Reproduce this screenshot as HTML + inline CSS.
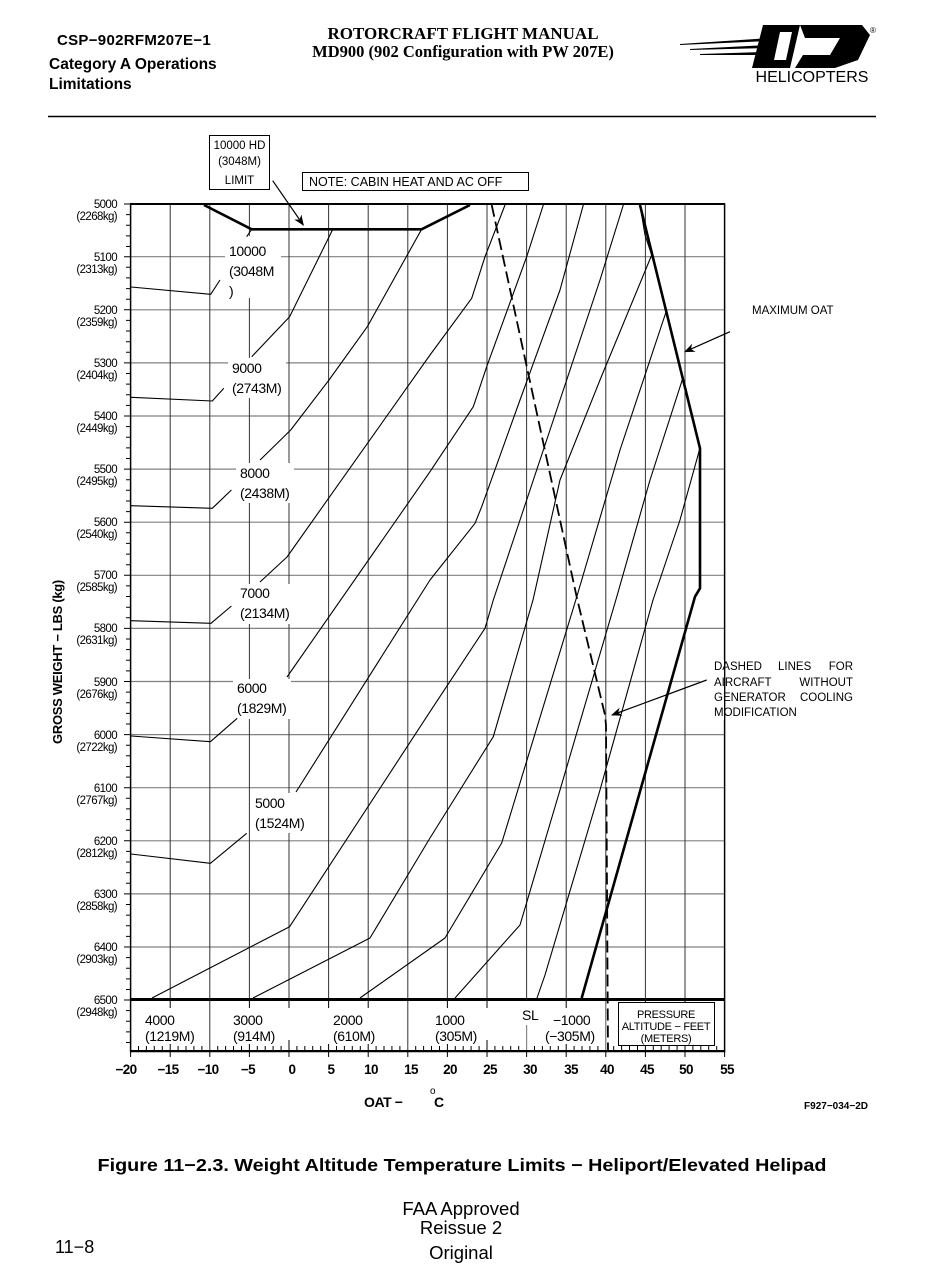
<!DOCTYPE html>
<html><head><meta charset="utf-8"><style>
html,body{margin:0;padding:0;background:#fff;}
svg{display:block;}
text{font-family:"Liberation Sans",Arial,sans-serif;fill:#000;}
</style></head><body>
<svg width="925" height="1287" viewBox="0 0 925 1287" xmlns="http://www.w3.org/2000/svg">
<defs>
<marker id="ah" viewBox="0 0 10 10" refX="9" refY="5" markerWidth="9" markerHeight="9" orient="auto-start-reverse"><path d="M0,1 L10,5 L0,9 L3,5 z" fill="#000"/></marker>
</defs>
<!-- Header -->
<text x="57" y="45" font-size="15" font-weight="bold" letter-spacing="0.3">CSP−902RFM207E−1</text>
<text x="49" y="69" font-size="15.5" font-weight="bold">Category A Operations</text>
<text x="49" y="89" font-size="15.5" font-weight="bold">Limitations</text>
<text x="463" y="39" font-size="17" font-weight="bold" text-anchor="middle" style="font-family:'Liberation Serif',serif">ROTORCRAFT FLIGHT MANUAL</text>
<text x="463" y="57" font-size="16.5" font-weight="bold" text-anchor="middle" style="font-family:'Liberation Serif',serif">MD900 (902 Configuration with PW 207E)</text>
<!-- logo -->
<g fill="#000">
<polygon points="680,44 770,38 768,41 680,45"/>
<polygon points="690,49 768,45 766,48 690,50"/>
<polygon points="700,54 764,52 762,55 700,55"/>
<polygon points="763,25 800,25 790,68 752,68"/>
<polygon points="800,25 862,25 870,35 858,60 835,68 795,68 803,55 830,55 840,38 805,38"/>
</g>
<polygon points="780,32 792,32 786,60 774,60" fill="#fff"/>
<text x="870" y="33" font-size="8">®</text>
<text x="812" y="82" font-size="16" text-anchor="middle">HELICOPTERS</text>
<line x1="48" y1="116.5" x2="876" y2="116.5" stroke="#000" stroke-width="1.5"/>

<!-- Grid horizontal -->
<g stroke="#808080" stroke-width="1.2">
<line x1="131" y1="256.7" x2="725" y2="256.7"/><line x1="131" y1="309.8" x2="725" y2="309.8"/>
<line x1="131" y1="362.9" x2="725" y2="362.9"/><line x1="131" y1="416" x2="725" y2="416"/>
<line x1="131" y1="469.1" x2="725" y2="469.1"/><line x1="131" y1="522.2" x2="725" y2="522.2"/>
<line x1="131" y1="575.3" x2="725" y2="575.3"/><line x1="131" y1="628.4" x2="725" y2="628.4"/>
<line x1="131" y1="681.5" x2="725" y2="681.5"/><line x1="131" y1="734.6" x2="725" y2="734.6"/>
<line x1="131" y1="787.7" x2="725" y2="787.7"/><line x1="131" y1="840.8" x2="725" y2="840.8"/>
<line x1="131" y1="893.9" x2="725" y2="893.9"/><line x1="131" y1="947" x2="725" y2="947"/>
</g>
<!-- Grid vertical -->
<g stroke="#333" stroke-width="1">
<line x1="170.2" y1="204" x2="170.2" y2="1000"/><line x1="209.8" y1="204" x2="209.8" y2="1051"/>
<line x1="249.4" y1="204" x2="249.4" y2="1000"/><line x1="289" y1="204" x2="289" y2="1000"/>
<line x1="328.6" y1="204" x2="328.6" y2="1000"/><line x1="368.2" y1="204" x2="368.2" y2="1000"/>
<line x1="407.8" y1="204" x2="407.8" y2="1051"/><line x1="447.4" y1="204" x2="447.4" y2="1000"/>
<line x1="487" y1="204" x2="487" y2="1000"/><line x1="526.6" y1="204" x2="526.6" y2="1000"/>
<line x1="566.2" y1="204" x2="566.2" y2="1000"/><line x1="605.8" y1="204" x2="605.8" y2="1000"/>
<line x1="645.4" y1="204" x2="645.4" y2="1000"/><line x1="685" y1="204" x2="685" y2="1000"/>
</g>
<line x1="526.6" y1="1025" x2="526.6" y2="1051" stroke="#888" stroke-width="1.2"/>
<line x1="605.8" y1="1000" x2="605.8" y2="1051" stroke="#555" stroke-width="1"/>

<!-- borders -->
<rect x="130.6" y="204" width="594" height="847.5" fill="none" stroke="#000" stroke-width="1.5"/>
<line x1="130" y1="204" x2="725" y2="204" stroke="#000" stroke-width="2"/>
<line x1="130" y1="999.5" x2="725" y2="999.5" stroke="#000" stroke-width="3"/>
<line x1="130" y1="1051" x2="725" y2="1051" stroke="#000" stroke-width="2"/>

<path stroke="#000" stroke-width="1" fill="none" d="
M124,204H131M126,214.6H131M126,225.2H131M126,235.9H131M126,246.5H131M124,256.7H131
M126,267.3H131M126,277.9H131M126,288.6H131M126,299.2H131M124,309.8H131
M126,320.4H131M126,331H131M126,341.7H131M126,352.3H131M124,362.9H131
M126,373.5H131M126,384.1H131M126,394.8H131M126,405.4H131M124,416H131
M126,426.6H131M126,437.2H131M126,447.9H131M126,458.5H131M124,469.1H131
M126,479.7H131M126,490.3H131M126,501H131M126,511.6H131M124,522.2H131
M126,532.8H131M126,543.4H131M126,554.1H131M126,564.7H131M124,575.3H131
M126,585.9H131M126,596.5H131M126,607.2H131M126,617.8H131M124,628.4H131
M126,639H131M126,649.6H131M126,660.3H131M126,670.9H131M124,681.5H131
M126,692.1H131M126,702.7H131M126,713.4H131M126,724H131M124,734.6H131
M126,745.2H131M126,755.8H131M126,766.5H131M126,777.1H131M124,787.7H131
M126,798.3H131M126,808.9H131M126,819.6H131M126,830.2H131M124,840.8H131
M126,851.4H131M126,862H131M126,872.7H131M126,883.3H131M124,893.9H131
M126,904.5H131M126,915.1H131M126,925.8H131M126,936.4H131M124,947H131
M126,957.6H131M126,968.2H131M126,978.9H131M126,989.5H131M124,1000H131
M126,1010.6H131M126,1021.2H131M126,1031.9H131M126,1042.5H131"/>
<g stroke="#000" stroke-width="1">
<path d="M138.5,1046V1051M146.4,1046V1051M154.3,1046V1051M162.3,1046V1051M178.1,1046V1051M186,1046V1051M193.9,1046V1051M201.9,1046V1051M217.7,1046V1051M225.6,1046V1051M233.5,1046V1051M241.5,1046V1051M257.3,1046V1051M265.2,1046V1051M273.1,1046V1051M281.1,1046V1051M296.9,1046V1051M304.8,1046V1051M312.7,1046V1051M320.7,1046V1051M336.5,1046V1051M344.4,1046V1051M352.3,1046V1051M360.3,1046V1051M376.1,1046V1051M384,1046V1051M391.9,1046V1051M399.9,1046V1051M415.7,1046V1051M423.6,1046V1051M431.5,1046V1051M439.5,1046V1051M455.3,1046V1051M463.2,1046V1051M471.1,1046V1051M479.1,1046V1051M494.9,1046V1051M502.8,1046V1051M510.7,1046V1051M518.7,1046V1051M534.5,1046V1051M542.4,1046V1051M550.3,1046V1051M558.3,1046V1051M574.1,1046V1051M582,1046V1051M589.9,1046V1051M597.9,1046V1051M613.7,1046V1051M621.6,1046V1051M629.5,1046V1051M637.5,1046V1051M653.3,1046V1051M661.2,1046V1051M669.1,1046V1051M677.1,1046V1051M692.9,1046V1051M700.8,1046V1051M708.7,1046V1051M716.7,1046V1051"/>
<path d="M170.2,1040V1057M249.4,1040V1057M289,1040V1057M328.6,1040V1057M368.2,1040V1057M447.4,1040V1057M487,1040V1057M566.2,1040V1057M645.4,1040V1057M685,1040V1057M130.6,1051V1057M209.8,1051V1057M407.8,1051V1057M526.6,1051V1057M605.8,1051V1057M724.6,1051V1057"/>
<path d="M170.2,1000V1008M249.4,1000V1008M289,1000V1008M328.6,1000V1008M368.2,1000V1008M447.4,1000V1008M487,1000V1008M566.2,1000V1008M645.4,1000V1008M685,1000V1008"/>
</g>

<g fill="#fff">
<rect x="225" y="236" width="56" height="62"/>
<rect x="228" y="358" width="58" height="40"/>
<rect x="236" y="463" width="58" height="40"/>
<rect x="236" y="584" width="58" height="40"/>
<rect x="233" y="679" width="58" height="40"/>
<rect x="251" y="793" width="58" height="40"/>
<rect x="140" y="1010" width="55" height="34"/>
<rect x="228" y="1010" width="50" height="34"/>
<rect x="328" y="1010" width="50" height="34"/>
<rect x="430" y="1010" width="50" height="34"/>
<rect x="518" y="1006" width="20" height="19"/>
<rect x="546" y="1010" width="58" height="34"/>
<rect x="700" y="660" width="24" height="60"/>
</g>

<g fill="none" stroke="#000" stroke-width="1.1" stroke-linejoin="round">
<polyline points="332.8,229.3 289.6,316.7 251.7,356.7"/>
<polyline points="421.6,229.3 367.3,326.7 329,380 290.7,430 260.1,460"/>
<polyline points="505,205 485,256.7 471.7,298.3 430,355 287,557 260,582"/>
<polyline points="543.3,205 526.7,256.7 486.7,366.7 473.3,406.7 430,471.7 287,677"/>
<polyline points="583.3,205 560,290 520,400 481.7,506.7 475,523.3 430,580 296,792"/>
<polyline points="623.3,205 600,280 560,400 520,520 493.3,600 485,628.3 430,711.7 289.6,926.7 152,998"/>
<polyline points="640,205 645,235 651.7,255 600,380 560,480 533,600 493.3,736.7 430,838 370,938 253,998"/>
<polyline points="666.7,310 620,450 576.7,597 501.7,843 445,938 360,998"/>
<polyline points="683.3,376.7 650,480 616.7,597 560,790 520,925 455,998"/>
<polyline points="700,448 680,520 653,600 600,790 545,975 537,998"/>
<polyline points="246.7,236.7 251.7,229.3"/>
<polyline points="131,287 210.7,294.3 220,280"/>
<polyline points="131,397.3 212.3,401 223.8,388.3"/>
<polyline points="131,505.7 212.3,508.3 231.4,490"/>
<polyline points="131,620.7 211,623.3 231.4,606"/>
<polyline points="131,736 210.4,741.7 237.2,718.3"/>
<polyline points="131,854 210.4,863.3 246.7,833.3"/>
</g>
<polyline points="204,205 251.7,229.3 421.6,229.3 470,205" fill="none" stroke="#000" stroke-width="2.6"/>
<polyline points="640,205 700,448.3 700,588.3 695,596.7 581.7,998" fill="none" stroke="#000" stroke-width="2.6"/>
<polyline points="491.7,205 576.7,597 605,715 606,725 608,1051" fill="none" stroke="#000" stroke-width="1.8" stroke-dasharray="12,5"/>

<rect x="209.5" y="135.5" width="60" height="54" fill="#fff" stroke="#000"/>
<text x="239.5" y="149" font-size="11.5" text-anchor="middle">10000 HD</text>
<text x="239.5" y="165" font-size="11.5" text-anchor="middle">(3048M)</text>
<text x="239.5" y="184" font-size="11.5" text-anchor="middle">LIMIT</text>
<rect x="302.5" y="172.5" width="226" height="18" fill="#fff" stroke="#000"/>
<text x="309" y="186" font-size="12.5">NOTE: CABIN HEAT AND AC OFF</text>
<line x1="272.7" y1="180.7" x2="303.3" y2="225" stroke="#000" stroke-width="1.2" marker-end="url(#ah)"/>
<text x="752" y="314" font-size="11.5">MAXIMUM OAT</text>
<line x1="730" y1="331.7" x2="685" y2="351.7" stroke="#000" stroke-width="1.2" marker-end="url(#ah)"/>
<g font-size="11.5">
<text x="714" y="670">DASHED</text><text x="778" y="670">LINES</text><text x="853" y="670" text-anchor="end">FOR</text>
<text x="714" y="686">AIRCRAFT</text><text x="853" y="686" text-anchor="end">WITHOUT</text>
<text x="714" y="701">GENERATOR</text><text x="853" y="701" text-anchor="end">COOLING</text>
<text x="714" y="716">MODIFICATION</text>
</g>
<line x1="706.7" y1="680" x2="612" y2="715" stroke="#000" stroke-width="1.2" marker-end="url(#ah)"/>

<g font-size="14" letter-spacing="-0.4">
<text x="229" y="256">10000</text><text x="229" y="276">(3048M</text><text x="229" y="296">)</text>
<text x="232" y="373">9000</text><text x="232" y="393">(2743M)</text>
<text x="240" y="478">8000</text><text x="240" y="498">(2438M)</text>
<text x="240" y="598">7000</text><text x="240" y="618">(2134M)</text>
<text x="237" y="693">6000</text><text x="237" y="713">(1829M)</text>
<text x="255" y="808">5000</text><text x="255" y="828">(1524M)</text>
<text x="145" y="1025">4000</text><text x="145" y="1041">(1219M)</text>
<text x="233" y="1025">3000</text><text x="233" y="1041">(914M)</text>
<text x="333" y="1025">2000</text><text x="333" y="1041">(610M)</text>
<text x="435" y="1025">1000</text><text x="435" y="1041">(305M)</text>
<text x="522" y="1020">SL</text>
<text x="553" y="1025">−1000</text><text x="545" y="1041">(−305M)</text>
</g>
<rect x="618.5" y="1002.5" width="96" height="43" fill="#fff" stroke="#000"/>
<g font-size="11" text-anchor="middle" letter-spacing="-0.3">
<text x="666" y="1018">PRESSURE</text>
<text x="666" y="1030">ALTITUDE − FEET</text>
<text x="666" y="1042">(METERS)</text>
</g>

<g font-size="11.5" text-anchor="end" letter-spacing="-0.6">
<text x="117" y="208">5000</text><text x="117" y="220">(2268kg)</text>
<text x="117" y="261">5100</text><text x="117" y="273">(2313kg)</text>
<text x="117" y="314">5200</text><text x="117" y="326">(2359kg)</text>
<text x="117" y="367">5300</text><text x="117" y="379">(2404kg)</text>
<text x="117" y="420">5400</text><text x="117" y="432">(2449kg)</text>
<text x="117" y="473">5500</text><text x="117" y="485">(2495kg)</text>
<text x="117" y="526">5600</text><text x="117" y="538">(2540kg)</text>
<text x="117" y="579">5700</text><text x="117" y="591">(2585kg)</text>
<text x="117" y="632">5800</text><text x="117" y="644">(2631kg)</text>
<text x="117" y="686">5900</text><text x="117" y="698">(2676kg)</text>
<text x="117" y="739">6000</text><text x="117" y="751">(2722kg)</text>
<text x="117" y="792">6100</text><text x="117" y="804">(2767kg)</text>
<text x="117" y="845">6200</text><text x="117" y="857">(2812kg)</text>
<text x="117" y="898">6300</text><text x="117" y="910">(2858kg)</text>
<text x="117" y="951">6400</text><text x="117" y="963">(2903kg)</text>
<text x="117" y="1004">6500</text><text x="117" y="1016">(2948kg)</text>
</g>
<text transform="translate(62,662) rotate(-90)" font-size="13" font-weight="bold" text-anchor="middle" letter-spacing="-0.3">GROSS WEIGHT − LBS (kg)</text>

<g font-size="13.5" text-anchor="middle" letter-spacing="-0.6" font-weight="bold">
<text x="126" y="1074">−20</text><text x="168" y="1074">−15</text><text x="208" y="1074">−10</text>
<text x="248" y="1074">−5</text><text x="292" y="1074">0</text><text x="331" y="1074">5</text>
<text x="371" y="1074">10</text><text x="411" y="1074">15</text><text x="450" y="1074">20</text>
<text x="490" y="1074">25</text><text x="530" y="1074">30</text><text x="571" y="1074">35</text>
<text x="607" y="1074">40</text><text x="647" y="1074">45</text><text x="686" y="1074">50</text>
<text x="727" y="1074">55</text>
</g>
<text x="364" y="1107" font-size="14" font-weight="bold" letter-spacing="-0.4">OAT −</text>
<text x="430" y="1094" font-size="10">o</text>
<text x="434" y="1107" font-size="14" font-weight="bold">C</text>
<text x="868" y="1109" font-size="10" font-weight="bold" text-anchor="end">F927−034−2D</text>

<text x="462" y="1171" font-size="17.5" font-weight="bold" text-anchor="middle" textLength="729" lengthAdjust="spacingAndGlyphs">Figure 11−2.3. Weight Altitude Temperature Limits − Heliport/Elevated Helipad</text>
<text x="461" y="1215" font-size="18.5" text-anchor="middle">FAA Approved</text>
<text x="461" y="1234" font-size="18.5" text-anchor="middle">Reissue 2</text>
<text x="461" y="1259" font-size="18.5" text-anchor="middle">Original</text>
<text x="55" y="1253" font-size="18">11−8</text>
</svg>
</body></html>
